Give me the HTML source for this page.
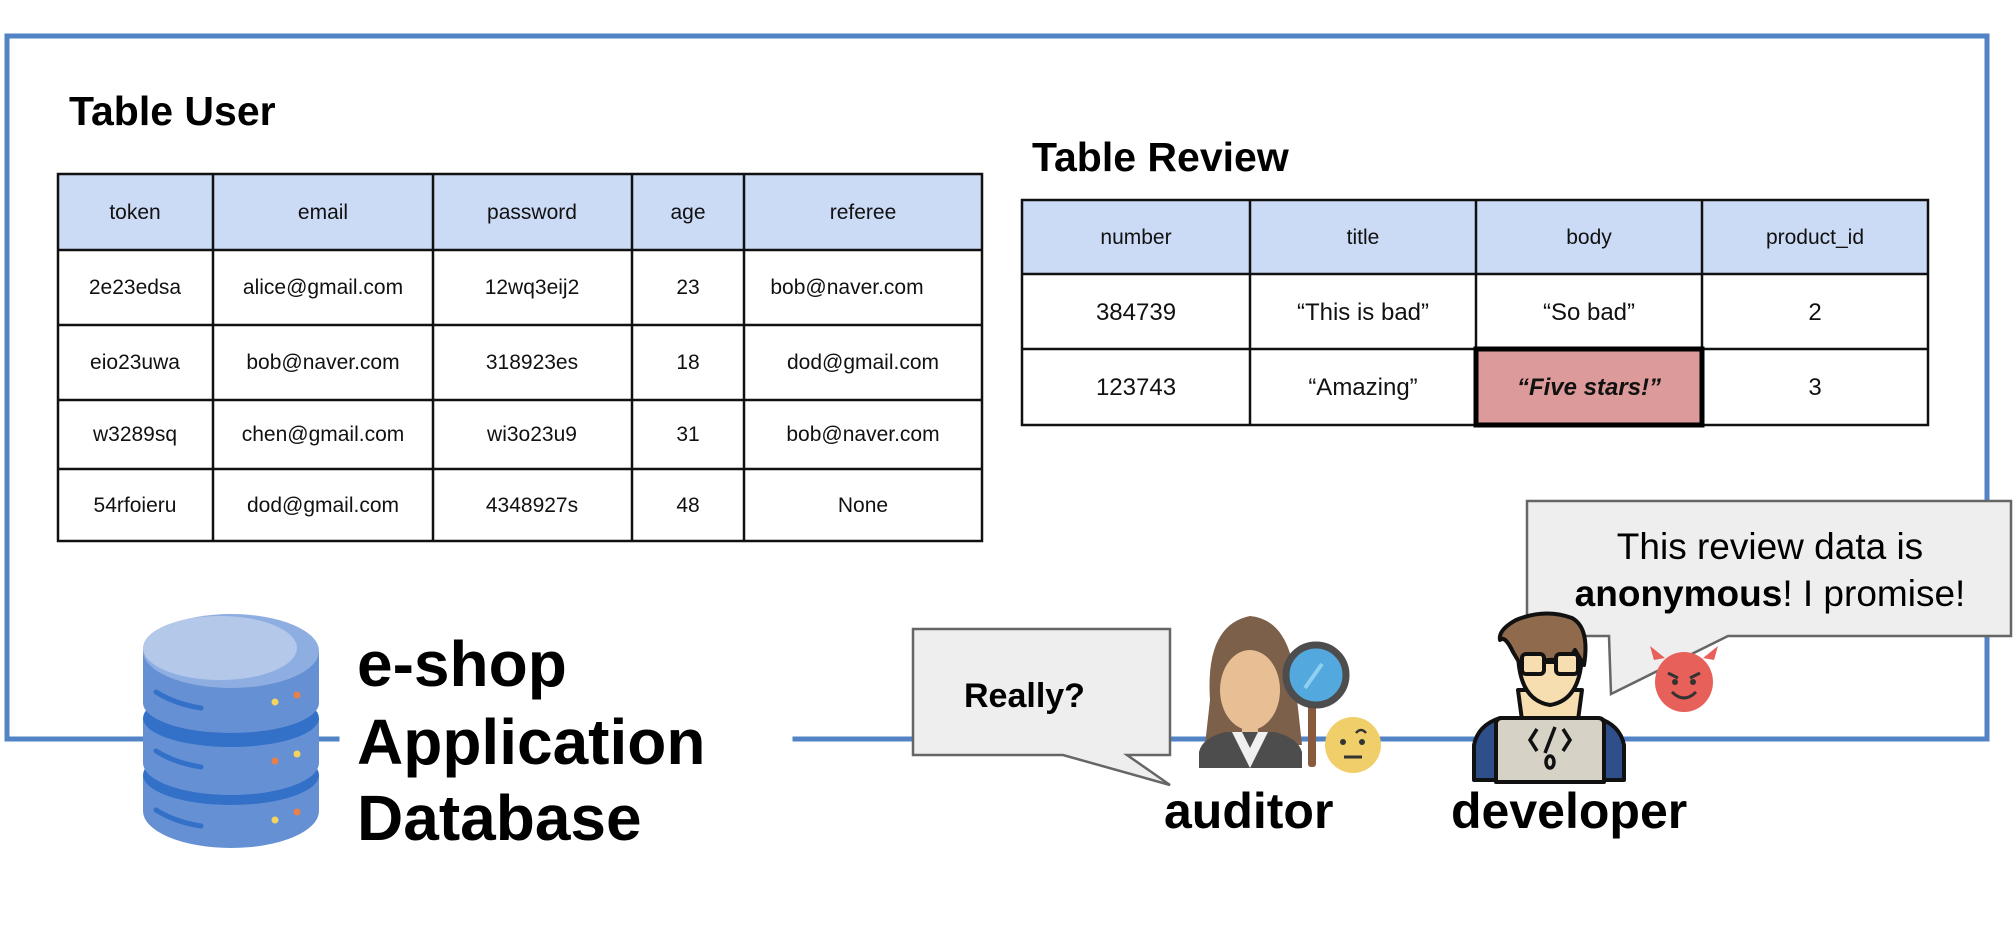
<!DOCTYPE html>
<html><head><meta charset="utf-8"><style>
html,body{margin:0;padding:0;background:#fff;}
svg{display:block;}
text{font-family:"Liberation Sans",Arial,sans-serif;}
</style></head><body>
<svg width="2016" height="940" viewBox="0 0 2016 940" xmlns="http://www.w3.org/2000/svg">
<rect width="2016" height="940" fill="#fff"/>
<!-- blue frame -->
<g stroke="#5183c5" stroke-width="5" fill="none" stroke-linecap="square">
<polyline points="337,739 7,739 7,36 1987,36 1987,739 795,739"/>
</g>

<!-- Table User -->
<text x="69" y="125" font-size="41" font-weight="bold">Table User</text>
<rect x="58" y="174" width="924" height="76" fill="#cbdaf5"/>
<g stroke="#111" stroke-width="2.5" fill="none">
<rect x="58" y="174" width="924" height="367"/>
<line x1="58" y1="250" x2="982" y2="250"/>
<line x1="58" y1="325" x2="982" y2="325"/>
<line x1="58" y1="400" x2="982" y2="400"/>
<line x1="58" y1="469" x2="982" y2="469"/>
<line x1="213" y1="174" x2="213" y2="541"/>
<line x1="433" y1="174" x2="433" y2="541"/>
<line x1="632" y1="174" x2="632" y2="541"/>
<line x1="744" y1="174" x2="744" y2="541"/>
</g>
<g font-size="21" text-anchor="middle" fill="#111">
<text x="135" y="219">token</text><text x="323" y="219">email</text><text x="532" y="219">password</text><text x="688" y="219">age</text><text x="863" y="219">referee</text>
<text x="135" y="294">2e23edsa</text><text x="323" y="294">alice@gmail.com</text><text x="532" y="294">12wq3eij2</text><text x="688" y="294">23</text><text x="847" y="294">bob@naver.com</text>
<text x="135" y="369">eio23uwa</text><text x="323" y="369">bob@naver.com</text><text x="532" y="369">318923es</text><text x="688" y="369">18</text><text x="863" y="369">dod@gmail.com</text>
<text x="135" y="441">w3289sq</text><text x="323" y="441">chen@gmail.com</text><text x="532" y="441">wi3o23u9</text><text x="688" y="441">31</text><text x="863" y="441">bob@naver.com</text>
<text x="135" y="512">54rfoieru</text><text x="323" y="512">dod@gmail.com</text><text x="532" y="512">4348927s</text><text x="688" y="512">48</text><text x="863" y="512">None</text>
</g>

<!-- Table Review -->
<text x="1032" y="171" font-size="41" font-weight="bold">Table Review</text>
<rect x="1022" y="200" width="906" height="74" fill="#cbdaf5"/>
<rect x="1476" y="349" width="226" height="76" fill="#dd9a9a"/>
<g stroke="#111" stroke-width="2.5" fill="none">
<rect x="1022" y="200" width="906" height="225"/>
<line x1="1022" y1="274" x2="1928" y2="274"/>
<line x1="1022" y1="349" x2="1928" y2="349"/>
<line x1="1250" y1="200" x2="1250" y2="425"/>
<line x1="1476" y1="200" x2="1476" y2="425"/>
<line x1="1702" y1="200" x2="1702" y2="425"/>
</g>
<rect x="1476" y="349" width="226" height="76" fill="none" stroke="#000" stroke-width="5"/>
<g font-size="21" text-anchor="middle" fill="#111">
<text x="1136" y="244">number</text><text x="1363" y="244">title</text><text x="1589" y="244">body</text><text x="1815" y="244">product_id</text>
</g>
<g font-size="24" text-anchor="middle" fill="#111">
<text x="1136" y="320">384739</text><text x="1363" y="320">“This is bad”</text><text x="1589" y="320">“So bad”</text><text x="1815" y="320">2</text>
<text x="1136" y="395">123743</text><text x="1363" y="395">“Amazing”</text><text x="1589" y="395" font-weight="bold" font-style="italic">“Five stars!”</text><text x="1815" y="395">3</text>
</g>

<!-- Database icon -->
<g>
<path d="M143,775 L143,811 A88,37 0 0 0 319,811 L319,775 Z" fill="#6590d3"/>
<ellipse cx="231" cy="775" rx="88" ry="30" fill="#3370c8"/>
<path d="M143,718 L143,763 A88,32 0 0 0 319,763 L319,718 Z" fill="#6590d3"/>
<ellipse cx="231" cy="718" rx="88" ry="29" fill="#3370c8"/>
<path d="M143,651 L143,703 A88,30 0 0 0 319,703 L319,651 Z" fill="#6590d3"/>
<ellipse cx="231" cy="651" rx="88" ry="37" fill="#8eaee2"/>
<ellipse cx="220" cy="648" rx="77" ry="32" fill="#b4c8ea"/>
<g stroke="#3370c8" stroke-width="5" stroke-linecap="round" fill="none">
<path d="M156,692 Q175,704 201,708"/>
<path d="M156,751 Q175,763 201,767"/>
<path d="M156,810 Q175,822 201,826"/>
</g>
<circle cx="275" cy="702" r="3.5" fill="#f4d35e"/><circle cx="297" cy="695" r="3.5" fill="#e8804a"/>
<circle cx="275" cy="761" r="3.5" fill="#e8804a"/><circle cx="297" cy="754" r="3.5" fill="#f4d35e"/>
<circle cx="275" cy="820" r="3.5" fill="#f4d35e"/><circle cx="297" cy="812" r="3.5" fill="#e8804a"/>
</g>
<g font-size="64" font-weight="bold" fill="#000">
<text x="357" y="686">e-shop</text>
<text x="357" y="764">Application</text>
<text x="357" y="840">Database</text>
</g>

<!-- auditor bubble -->
<path d="M913,629 L1170,629 L1170,755 L1127,755 L1170,785 L1063,755 L913,755 Z" fill="#eeeeee" stroke="#666" stroke-width="2.5"/>
<text x="964" y="707" font-size="34" font-weight="bold">Really?</text>

<!-- auditor figure -->
<g>
<path d="M1210,700 Q1205,625 1250,616 Q1292,620 1296,690 L1302,745 L1205,745 Z" fill="#7d6049"/>
<ellipse cx="1250" cy="690" rx="30" ry="40" fill="#e8bf94"/>
<path d="M1220,660 Q1240,640 1265,655 Q1265,635 1250,628 Q1222,632 1220,660 Z" fill="#7d6049"/>
<rect x="1242" y="720" width="16" height="20" fill="#e8bf94"/>
<path d="M1199,768 L1199,752 Q1202,738 1225,732 L1275,732 Q1298,738 1302,752 L1302,768 Z" fill="#4d4d4d"/>
<path d="M1232,732 L1250,768 L1268,732 L1258,732 L1250,748 L1242,732 Z" fill="#f0f0f0"/>
<rect x="1308" y="705" width="8" height="62" rx="3" fill="#8a5a3c"/>
<circle cx="1316" cy="675" r="30" fill="#53a8dd" stroke="#4d4d4d" stroke-width="7"/>
<line x1="1305" y1="688" x2="1322" y2="664" stroke="#8fd0f0" stroke-width="4"/>
<circle cx="1353" cy="745" r="28" fill="#f0cf6a"/>
<circle cx="1343" cy="742" r="3" fill="#333"/><circle cx="1362" cy="742" r="3" fill="#333"/>
<path d="M1356,733 Q1361,727 1366,733" stroke="#333" stroke-width="2.5" fill="none"/>
<line x1="1344" y1="757" x2="1362" y2="757" stroke="#333" stroke-width="3"/>
</g>
<text x="1164" y="828" font-size="50" font-weight="bold">auditor</text>

<!-- developer bubble -->
<path d="M1527,501 L2011,501 L2011,636 L1728,636 L1611,694 L1609,636 L1527,636 Z" fill="#eeeeee" stroke="#666" stroke-width="2.5"/>
<g font-size="37" text-anchor="middle">
<text x="1770" y="559">This review data is</text>
<text x="1770" y="606"><tspan font-weight="bold">anonymous</tspan>! I promise!</text>
</g>

<!-- developer figure -->
<g stroke="#111" stroke-width="4" stroke-linejoin="round">
<path d="M1474,780 L1474,745 Q1478,725 1500,718 L1598,718 Q1620,725 1624,745 L1624,780 Z" fill="#2f4f8a"/>
<path d="M1522,720 L1518,690 L1582,690 L1578,720 Z" fill="#f6deb0"/>
<path d="M1518,650 Q1518,700 1550,705 Q1582,700 1582,650 Z" fill="#f6deb0"/>
<path d="M1513,652 Q1505,635 1500,640 Q1498,630 1516,620 Q1545,608 1572,618 Q1590,628 1584,665 L1575,650 Q1565,668 1555,660 Q1540,658 1525,672 Z" fill="#8f6a4c"/>
<rect x="1522" y="654" width="22" height="20" rx="4" fill="#f6deb0"/>
<rect x="1556" y="654" width="22" height="20" rx="4" fill="#f6deb0"/>
<line x1="1544" y1="662" x2="1556" y2="662"/>
<path d="M1496,782 L1496,724 Q1496,718 1502,718 L1598,718 Q1604,718 1604,724 L1604,782 Z" fill="#d6d2c6"/>
</g>
<g stroke="#111" stroke-width="3.5" fill="none">
<polyline points="1537,729 1530,740 1537,751"/>
<polyline points="1563,729 1570,740 1563,751"/>
<line x1="1555" y1="727" x2="1545" y2="753"/>
<ellipse cx="1550" cy="762" rx="4" ry="6"/>
</g>
<g>
<path d="M1654,660 L1650,646 L1665,658 Z M1714,660 L1718,646 L1703,658 Z" fill="#e8605a"/>
<ellipse cx="1684" cy="682" rx="29" ry="30" fill="#e8605a"/>
<path d="M1668,673 L1678,678 M1700,673 L1690,678" stroke="#333" stroke-width="3"/>
<circle cx="1675" cy="682" r="3" fill="#333"/><circle cx="1693" cy="682" r="3" fill="#333"/>
<path d="M1672,692 Q1684,704 1696,692" stroke="#333" stroke-width="3" fill="none"/>
</g>
<text x="1451" y="828" font-size="50" font-weight="bold">developer</text>
</svg>
</body></html>
